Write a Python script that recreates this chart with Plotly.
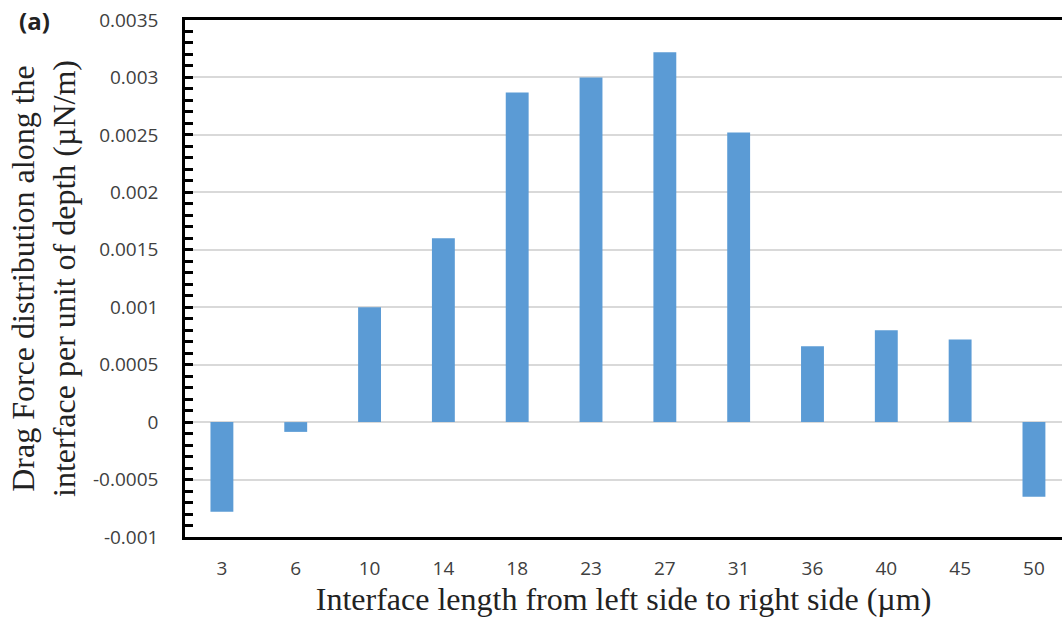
import plotly.graph_objects as go

categories = ["3", "6", "10", "14", "18", "23", "27", "31", "36", "40", "45", "50"]
drag_force = [-0.00078, -0.000085, 0.001, 0.0016, 0.00287, 0.003, 0.00322, 0.00252,
              0.00066, 0.0008, 0.00072, -0.00065]
y_tick_vals = [-0.001, -0.0005, 0, 0.0005, 0.001, 0.0015, 0.002, 0.0025, 0.003, 0.0035]
y_tick_text = ["-0.001", "-0.0005", "0", "0.0005", "0.001", "0.0015", "0.002", "0.0025", "0.003", "0.0035"]

fig = go.Figure()
fig.add_trace(go.Bar(
    x=list(range(len(categories))),
    y=drag_force,
    marker=dict(color="#5B9BD5", line=dict(width=0)),
    width=0.31,
))

fig.update_layout(
    width=1062, height=630,
    margin=dict(l=185, r=0, t=20, b=93),
    paper_bgcolor="white", plot_bgcolor="white",
    showlegend=False,
    font=dict(family="Open Sans, Liberation Sans, sans-serif", color="#404040"),
)

fig.update_xaxes(
    range=[-0.5, 11.38],
    tickmode="array",
    tickvals=list(range(len(categories))),
    ticktext=categories,
    tickfont=dict(size=19, color="#404040", family="Open Sans, sans-serif"),
    showgrid=False, zeroline=False,
    showline=True, linecolor="black", linewidth=2.5, mirror=True,
    ticks="", ticklabelstandoff=12,
    title=dict(text="Interface length from left side to right side (µm)",
               font=dict(family="Liberation Serif, Times New Roman, serif", size=32, color="#222"),
               standoff=6),
    automargin=False,
)

fig.update_yaxes(
    range=[-0.001, 0.0035],
    tickmode="array",
    tickvals=y_tick_vals,
    ticktext=y_tick_text,
    tickfont=dict(size=19, color="#404040", family="Open Sans, sans-serif"),
    showgrid=True, gridcolor="#D9D9D9", gridwidth=1.5,
    zeroline=True, zerolinecolor="#D9D9D9", zerolinewidth=1.5,
    showline=True, linecolor="black", linewidth=2.5,
    ticks="inside", ticklen=8, tickwidth=2.5, tickcolor="black",
    minor=dict(dtick=0.0001, ticks="inside", ticklen=8, tickwidth=2.5, tickcolor="black", showgrid=False),
    ticklabelstandoff=20,
    title=dict(text="Drag Force distribution along the<br>interface per unit of depth (µN/m)",
               font=dict(family="Liberation Serif, Times New Roman, serif", size=32, color="#222"),
               standoff=8),
    automargin=False,
)

fig.add_annotation(
    text="<b>(a)</b>", xref="paper", yref="paper", x=-0.192, y=1.0,
    xanchor="left", yanchor="middle", showarrow=False,
    font=dict(size=24, color="#222", family="Open Sans, sans-serif"),
)

# remove the default page margin so the figure fills the window exactly
fig.write_html("out.html", config={"displayModeBar": False},
               post_script="document.body.style.margin='0';")
